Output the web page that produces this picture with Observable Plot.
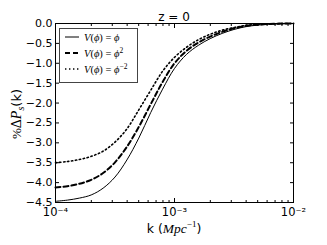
<!DOCTYPE html>
<html>
<head>
<meta charset="utf-8">
<script src="https://cdn.jsdelivr.net/npm/d3@7"></script>
<script src="https://cdn.jsdelivr.net/npm/@observablehq/plot@0.6"></script>
<style>
  html, body { margin: 0; padding: 0; background: white; }
  #chart { width: 327px; height: 245px; }
</style>
</head>
<body>
<div id="chart"></div>
<script>
// log10 of k (Mpc^-1), grid shared by the three curves
const logK = [-4.0, -3.9, -3.8, -3.7, -3.6, -3.5, -3.4, -3.3, -3.2, -3.1, -3.0, -2.9, -2.8, -2.7, -2.6, -2.5, -2.4, -2.3, -2.2, -2.1, -2.0];
// %ΔP_s(k) for each potential
const vPhi       = [-4.47, -4.44, -4.39, -4.31, -4.14, -3.86, -3.43, -2.88, -2.24, -1.65, -1.13, -0.78, -0.55, -0.38, -0.25, -0.15, -0.08, -0.04, -0.015, -0.005, 0];
const vPhi2      = [-4.12, -4.09, -4.03, -3.93, -3.76, -3.49, -3.10, -2.60, -2.03, -1.47, -1.00, -0.69, -0.48, -0.33, -0.21, -0.12, -0.06, -0.03, -0.01, -0.003, 0];
const vPhiMinus2 = [-3.50, -3.47, -3.42, -3.34, -3.21, -2.98, -2.65, -2.17, -1.68, -1.20, -0.85, -0.60, -0.41, -0.27, -0.17, -0.10, -0.05, -0.02, -0.01, -0.003, 0];
const seriesNames = ["V(ϕ) = ϕ", "V(ϕ) = ϕ²", "V(ϕ) = ϕ⁻²"];
const yTicks = [0, -0.5, -1, -1.5, -2, -2.5, -3, -3.5, -4, -4.5];
const xMajor = [1e-4, 1e-3, 1e-2];
const xMajorLabels = ["10⁻⁴", "10⁻³", "10⁻²"];
const xMinor = [2e-4, 3e-4, 4e-4, 5e-4, 6e-4, 7e-4, 8e-4, 9e-4, 2e-3, 3e-3, 4e-3, 5e-3, 6e-3, 7e-3, 8e-3, 9e-3];

const styles = [
  {strokeWidth: 1, strokeDasharray: null},
  {strokeWidth: 2, strokeDasharray: "5,3"},
  {strokeWidth: 1.6, strokeDasharray: "1.4,2.6"}
];
const seriesVals = [vPhi, vPhi2, vPhiMinus2];
const data = seriesVals.map((vals, i) => logK.map((e, j) => ({k: Math.pow(10, e), v: vals[j], s: seriesNames[i]})));

const fmtY = d => d.toFixed(1).replace("-", "−");
const fmtX = d => xMajorLabels[xMajor.indexOf(d)];

const chart = Plot.plot({
  width: 327,
  height: 245,
  marginLeft: 55,
  marginRight: 34,
  marginTop: 23,
  marginBottom: 43,
  style: {fontFamily: "DejaVu Sans, sans-serif", fontSize: "11px", background: "white", color: "black"},
  x: {type: "log", domain: [1e-4, 1e-2]},
  y: {domain: [-4.5, 0]},
  marks: [
    Plot.axisY({ticks: yTicks, tickSize: -4, tickPadding: 7, tickFormat: fmtY, label: null}),
    Plot.axisY({anchor: "right", ticks: yTicks, tickSize: -4, tickFormat: () => "", label: null}),
    Plot.axisX({ticks: xMajor, tickSize: -4, tickPadding: 9.5, tickFormat: fmtX, label: null, fontSize: 11.5}),
    Plot.axisX({ticks: xMinor, tickSize: -2, tickFormat: () => "", label: null}),
    Plot.axisX({anchor: "top", ticks: xMajor, tickSize: -4, tickFormat: () => "", label: null}),
    Plot.axisX({anchor: "top", ticks: xMinor, tickSize: -2, tickFormat: () => "", label: null}),
    ...data.map((d, i) => Plot.line(d, {x: "k", y: "v", stroke: "black", curve: "catmull-rom", ...styles[i]})),
    Plot.frame({stroke: "black", strokeWidth: 1})
  ]
});
document.getElementById("chart").appendChild(chart);

const svg = d3.select(chart);
const ns = svg.append("g").attr("fill", "black");

// Title
ns.append("text").attr("x", 174).attr("y", 21).attr("text-anchor", "middle")
  .attr("font-family", "DejaVu Sans").attr("font-size", 12).text("z = 0");

// x label
const xl = ns.append("text").attr("x", 174).attr("y", 233).attr("text-anchor", "middle")
  .attr("font-family", "DejaVu Sans").attr("font-size", 12.5);
xl.append("tspan").text("k (");
xl.append("tspan").attr("font-family", "Liberation Serif").attr("font-style", "italic").attr("font-size", 13.5).text("Mpc");
xl.append("tspan").attr("font-family", "Liberation Serif").attr("font-size", 9).attr("dy", -6).text("−1");
xl.append("tspan").attr("dy", 6).text(")");

// y label
const yl = ns.append("text").attr("transform", "translate(21,114) rotate(-90)").attr("text-anchor", "middle")
  .attr("font-family", "DejaVu Sans").attr("font-size", 13);
yl.append("tspan").attr("font-family", "Liberation Serif").attr("font-size", 13).text("%");
yl.append("tspan").attr("font-family", "Liberation Serif").attr("font-size", 14).text("Δ");
yl.append("tspan").attr("font-family", "Liberation Serif").attr("font-style", "italic").attr("font-size", 14).text("P");
yl.append("tspan").attr("font-family", "Liberation Serif").attr("font-style", "italic").attr("font-size", 10).attr("dy", 3).text("s");
yl.append("tspan").attr("dy", -3).text("(k)");

// Legend
const lg = svg.append("g");
lg.append("rect").attr("x", 59.5).attr("y", 28.5).attr("width", 78).attr("height", 54)
  .attr("fill", "white").attr("stroke", "#444").attr("stroke-width", 1);
const rows = [37, 53, 69];
const legendTexts = [
  [["V", true], ["(", false], ["ϕ", true], [") = ", false], ["ϕ", true]],
  [["V", true], ["(", false], ["ϕ", true], [") = ", false], ["ϕ", true], ["2", false, "sup"]],
  [["V", true], ["(", false], ["ϕ", true], [") = ", false], ["ϕ", true], ["−2", false, "sup"]]
];
rows.forEach((y, i) => {
  lg.append("line").attr("x1", 65).attr("x2", 79).attr("y1", y).attr("y2", y)
    .attr("stroke", "black").attr("stroke-width", styles[i].strokeWidth)
    .attr("stroke-dasharray", styles[i].strokeDasharray);
  const t = lg.append("text").attr("x", 84).attr("y", y + 3.5).attr("text-anchor", "start")
    .attr("font-family", "Liberation Serif").attr("font-size", 10.5).attr("fill", "black");
  legendTexts[i].forEach(([str, it, sup]) => {
    const ts = t.append("tspan").text(str).attr("font-style", it ? "italic" : "normal");
    if (sup) { ts.attr("font-size", 7.5).attr("dy", -4); }
  });
});
</script>
</body>
</html>
